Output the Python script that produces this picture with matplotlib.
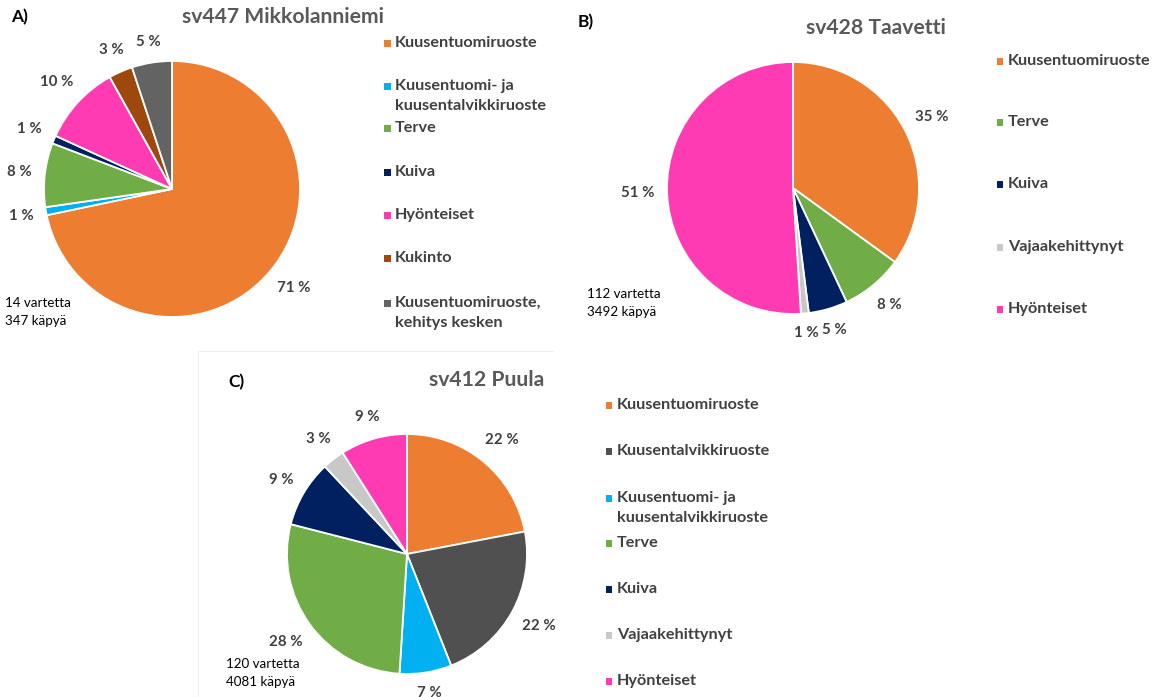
import matplotlib
matplotlib.use("Agg")
import matplotlib.pyplot as plt
import numpy as np
from matplotlib.patches import Rectangle
from matplotlib.lines import Line2D

plt.rcParams['font.family'] = ['Lato', 'DejaVu Sans']

W, H = 1158, 697

# --- data -------------------------------------------------------------
a_title = "sv447 Mikkolanniemi"
a_labels = ["Kuusentuomiruoste", "Kuusentuomi- ja\nkuusentalvikkiruoste", "Terve",
            "Kuiva", "Hyönteiset", "Kukinto", "Kuusentuomiruoste,\nkehitys kesken"]
a_values = [71, 1, 8, 1, 10, 3, 5]
a_colors = ["#ED7D31", "#00B0F0", "#70AD47", "#002060", "#FF3BB4", "#9E480E", "#636363"]
a_note = "14 vartetta\n347 käpyä"

b_title = "sv428 Taavetti"
b_labels = ["Kuusentuomiruoste", "Terve", "Kuiva", "Vajaakehittynyt", "Hyönteiset"]
b_values = [35, 8, 5, 1, 51]
b_colors = ["#ED7D31", "#70AD47", "#002060", "#C8C8C8", "#FF3BB4"]
b_note = "112 vartetta\n3492 käpyä"

c_title = "sv412 Puula"
c_labels = ["Kuusentuomiruoste", "Kuusentalvikkiruoste", "Kuusentuomi- ja\nkuusentalvikkiruoste",
            "Terve", "Kuiva", "Vajaakehittynyt", "Hyönteiset"]
c_values = [22, 22, 7, 28, 9, 3, 9]
c_colors = ["#ED7D31", "#505050", "#00B0F0", "#70AD47", "#002060", "#C8C8C8", "#FF3BB4"]
c_note = "120 vartetta\n4081 käpyä"

TXT = "#404040"

fig = plt.figure(figsize=(W / 100, H / 100), dpi=100)
fig.patch.set_facecolor("white")


def fx(x):
    return x / W


def fy(y):
    return 1 - y / H


def draw_pie(cx, cy, r, values, colors):
    ax = fig.add_axes([fx(cx - r), fy(cy + r), 2 * r / W, 2 * r / H])
    ax.axis("off")
    wedges, _ = ax.pie(values, colors=colors, startangle=90, counterclock=False,
                       radius=1, wedgeprops=dict(edgecolor="white", linewidth=1.3))
    ax.set_xlim(-1, 1)
    ax.set_ylim(-1, 1)
    fig.canvas.draw()
    renderer = fig.canvas.get_renderer()
    gap = 12.0
    for w, v in zip(wedges, values):
        th = np.deg2rad((w.theta1 + w.theta2) / 2)
        t = ax.text(0, 0, f"{v} %", ha="center", va="center", fontsize=10.8,
                    fontweight="bold", color=TXT)
        bb = t.get_window_extent(renderer)
        proj = bb.width / 2 * abs(np.cos(th)) + bb.height / 2 * abs(np.sin(th))
        d = 1 + (gap + proj) / r
        t.set_position((d * np.cos(th), d * np.sin(th)))
    return ax


def draw_legend(x_marker, y_list, labels, colors):
    for y, lab, col in zip(y_list, labels, colors):
        fig.patches.append(Rectangle((fx(x_marker - 3.5), fy(y + 3.5)), 7 / W, 7 / H,
                                     transform=fig.transFigure, facecolor=col,
                                     edgecolor="none"))
        fig.text(fx(x_marker + 8), fy(y - 7), lab, ha="left", va="top",
                 fontsize=11.7, fontweight="bold", color=TXT, linespacing=1.5)


def draw_note(x, y, note):
    fig.text(fx(x), fy(y), note, ha="left", va="top", fontsize=9.6,
             color="black", linespacing=1.6)


# faint frame edges around panel C
fig.lines.append(Line2D([fx(198), fx(553)], [fy(351), fy(351)], transform=fig.transFigure,
                        color="#EDEDED", linewidth=0.8))
fig.lines.append(Line2D([fx(198), fx(198)], [fy(351), fy(697)], transform=fig.transFigure,
                        color="#F2F2F2", linewidth=0.8))

# panel A
draw_pie(172, 189, 128, a_values, a_colors)
fig.text(fx(283), fy(17), a_title, ha="center", va="center", fontsize=15.2,
         fontweight="bold", color="#595959")
fig.text(fx(11), fy(17), "A)", ha="left", va="center", fontsize=12.5,
         fontweight="bold", color="black")
draw_note(5, 297, a_note)
draw_legend(387, [43, 86, 128, 172, 215, 258, 303], a_labels, a_colors)

# panel B
draw_pie(793, 188, 126, b_values, b_colors)
fig.text(fx(876), fy(28), b_title, ha="center", va="center", fontsize=15.2,
         fontweight="bold", color="#595959")
fig.text(fx(578), fy(22), "B)", ha="left", va="center", fontsize=12.5,
         fontweight="bold", color="black")
draw_note(587, 288, b_note)
draw_legend(1000, [61, 122, 184, 247, 309], b_labels, b_colors)

# panel C
draw_pie(407, 554, 120, c_values, c_colors)
fig.text(fx(487), fy(380), c_title, ha="center", va="center", fontsize=15.2,
         fontweight="bold", color="#595959")
fig.text(fx(228), fy(382), "C)", ha="left", va="center", fontsize=12.5,
         fontweight="bold", color="black")
draw_note(226, 658, c_note)
draw_legend(609, [405, 451, 498, 543, 589, 635, 681], c_labels, c_colors)

fig.savefig("out.png", dpi=100, facecolor="white")
